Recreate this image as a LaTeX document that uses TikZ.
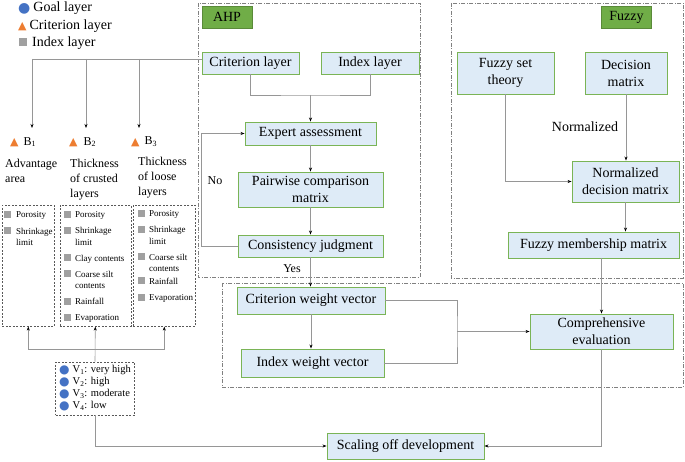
\documentclass[tikz,border=0pt]{standalone}
\usepackage{fontspec}
\setmainfont{Liberation Serif}
\newfontfamily\symfont{DejaVu Sans}
\usepackage{tikz}
\usetikzlibrary{positioning,arrows.meta,calc}

\definecolor{boxfill}{RGB}{222,235,247}
\definecolor{boxedge}{RGB}{122,180,86}
\definecolor{tagfill}{RGB}{112,173,71}
\definecolor{wiregray}{RGB}{150,150,150}
\definecolor{goalblue}{RGB}{68,114,196}
\definecolor{critorange}{RGB}{237,125,49}
\definecolor{idxgray}{RGB}{160,160,160}

\newcommand{\goaldot}[1]{\raisebox{-1pt}{\smash{\fontsize{#1}{#1}\symfont\color{goalblue}●}}}
\newcommand{\crittri}[1]{\raisebox{-0.5pt}{\smash{\fontsize{#1}{#1}\symfont\color{critorange}▲}}}
\newcommand{\idxsq}{\textcolor{idxgray}{\rule{7pt}{7pt}}}

\begin{document}
\begin{tikzpicture}[
    x=1pt, y=-1pt,
    proc/.style={rectangle, draw=boxedge, fill=boxfill, line width=0.9pt, inner sep=0pt, font=\fontsize{14}{17}\selectfont, align=center},
    tag/.style={rectangle, draw=tagfill!80!black, fill=tagfill, inner sep=0pt, minimum width=50, minimum height=22, font=\fontsize{14}{17}\selectfont},
    region/.style={draw=gray, line width=0.6pt, dash pattern=on 4pt off 1.5pt on 1pt off 1.5pt},
    ibox/.style={rectangle, draw=gray!70!black, line width=0.6pt, dash pattern=on 2pt off 1.5pt, inner sep=0pt},
    items/.style={inner sep=0pt, anchor=north west, font=\fontsize{9}{11.5}\selectfont},
    conn/.style={-{Stealth[length=4pt,width=3pt,black]}, draw=wiregray, line width=0.6pt},
    wire/.style={draw=wiregray, line width=0.6pt},
    note/.style={inner sep=0pt, align=left, font=\fontsize{12}{15}\selectfont},
    legend/.style={inner sep=0pt, anchor=west, font=\fontsize{14}{17}\selectfont}
]
\useasboundingbox (0,0) rectangle (685,462);

% Frames
\draw[region] (198,3) rectangle (420,277);
\draw[region] (451,3) rectangle (683,278);
\draw[region] (222,283) rectangle (683,387);

% Legend
\node[legend] (goal) at (18,8) {\goaldot{14}\hspace{3pt}Goal layer};
\node[legend] (critl) at (18,26) {\crittri{11}\hspace{3pt}Criterion layer};
\node[legend] (indexl) at (19,43) {\textcolor{idxgray}{\rule{8pt}{8pt}}\hspace{5pt}Index layer};

% AHP
\node[tag] (ahptag) at (227,17) {AHP};
\node[proc, minimum width=97, minimum height=22] (crit) at (250.5,63) {Criterion layer};
\node[proc, minimum width=98, minimum height=22] (index) at (370,63) {Index layer};
\node[proc, minimum width=131, minimum height=23] (expert) at (310.5,133.5) {Expert assessment};
\node[proc, minimum width=145, minimum height=35] (pairwise) at (310.5,189.5) {Pairwise comparison\\matrix};
\node[proc, minimum width=145, minimum height=22] (consist) at (310.5,246) {Consistency judgment};

% Fuzzy
\node[tag] (fuzzytag) at (626.5,17) {Fuzzy};
\node[proc, minimum width=97, minimum height=42] (fuzzyset) at (505.5,73) {Fuzzy set\\theory};
\node[proc, minimum width=82, minimum height=42] (decision) at (626,73) {Decision\\matrix};
\node[proc, minimum width=107, minimum height=41] (normdec) at (625.5,181.5) {Normalized\\decision matrix};
\node[proc, minimum width=171, minimum height=26] (member) at (593.5,245) {Fuzzy membership matrix};

% Evaluation
\node[proc, minimum width=148, minimum height=27] (critw) at (311,300.5) {Criterion weight vector};
\node[proc, minimum width=143, minimum height=28] (indexw) at (312.5,363) {Index weight vector};
\node[proc, minimum width=143, minimum height=35] (compre) at (601.5,331.5) {Comprehensive\\evaluation};
\node[proc, minimum width=157, minimum height=26] (scaling) at (405.5,446) {Scaling off development};

% Criterion layer B1--B3
\node[note, anchor=west] (b1) at (10,142) {\crittri{11}\hspace{5pt}B\textsubscript{1}};
\node[note, anchor=west] (b2) at (69,142) {\crittri{11}\hspace{6pt}B\textsubscript{2}};
\node[note, anchor=west] (b3) at (131,142) {\crittri{11}\hspace{5pt}B\textsubscript{3}};
\node[note, anchor=north west] (b1txt) at (5,159) {Advantage\\area};
\node[note, anchor=north west] (b2txt) at (70,159) {Thickness\\of crusted\\layers};
\node[note, anchor=north west] (b3txt) at (138,157) {Thickness\\of loose\\layers};

% Index layer boxes
\node[ibox, anchor=north west, minimum width=52, minimum height=121] (ind1) at (2,205) {};
\node[ibox, anchor=north west, minimum width=71, minimum height=121] (ind2) at (59.5,205) {};
\node[ibox, anchor=north west, minimum width=62, minimum height=121] (ind3) at (133,205) {};
\node[items] (ind1list) at (3.5,209.5) {\begin{tabular}{@{}l@{\hspace{5.5pt}}l@{}}
  \idxsq & Porosity\\[5pt]
  \idxsq & Shrinkage\\
         & limit
\end{tabular}};
\node[items] (ind2list) at (63.5,209.5) {\begin{tabular}{@{}l@{\hspace{4.5pt}}l@{}}
  \idxsq & Porosity\\[4.5pt]
  \idxsq & Shrinkage\\
         & limit\\[4.5pt]
  \idxsq & Clay contents\\[4.5pt]
  \idxsq & Coarse silt\\
         & contents\\[4.5pt]
  \idxsq & Rainfall\\[4.5pt]
  \idxsq & Evaporation
\end{tabular}};
\node[items] (ind3list) at (137.5,208.5) {\begin{tabular}{@{}l@{\hspace{4.5pt}}l@{}}
  \idxsq & Porosity\\[4.5pt]
  \idxsq & Shrinkage\\
         & limit\\[4.5pt]
  \idxsq & Coarse silt\\
         & contents\\[1pt]
  \idxsq & Rainfall\\[5pt]
  \idxsq & Evaporation
\end{tabular}};

% Goal layer box
\node[ibox, minimum width=79, minimum height=53, font=\fontsize{10.5}{12}\selectfont] (vbox) at (95,388.5) {\begin{tabular}{@{}l@{\hspace{3pt}}l@{}}
  \goaldot{12} & V\textsubscript{1}: very high\\
  \goaldot{12} & V\textsubscript{2}: high\\
  \goaldot{12} & V\textsubscript{3}: moderate\\
  \goaldot{12} & V\textsubscript{4}: low
\end{tabular}};

% Arrows
\coordinate (crown) at (32,59);
\coordinate (b1in) at (32,128);
\coordinate (b2in) at (86,128);
\coordinate (b3in) at (139,128);
\draw[wire] (crit.west |- crown) -- (crown);
\foreach \b in {b1in,b2in,b3in}
  \draw[conn] (\b |- crown) -- (\b);

\coordinate (merge1) at (expert.north |- 0,95);
\draw[wire] (crit.south) |- (merge1) -| (index.south);
\draw[conn] (merge1) -- (expert.north);
\draw[conn] (expert) -- (pairwise);
\draw[conn] (pairwise) -- (consist);
\draw[conn] (consist.west) -- ++(-36,0) |- (expert.west);
\draw[conn] (consist.south) -- (consist.south |- critw.north);

\draw[conn] (fuzzyset.south) |- (normdec.west);
\draw[conn] (decision.south) -- (decision.south |- normdec.north);
\draw[conn] (normdec.south) -- (normdec.south |- member.north);
\draw[conn] (compre.north |- member.south) -- (compre.north);

\coordinate (merge2) at (compre.west -| 457,0);
\draw[wire] (critw.east) -| (merge2) |- (indexw.east);
\draw[conn] (merge2) -- (compre.west);
\draw[conn] (critw.south) -- (critw.south |- indexw.north);
\draw[conn] (compre.south) |- (scaling.east);
\draw[conn] (vbox.south) |- (scaling.west);

\coordinate (vfork) at (vbox.north |- 0,349);
\draw[conn] (vbox.north) -- (ind2.south);
\draw[conn] (vfork) -| (ind1.south);
\draw[conn] (vfork) -| (ind3.south);

% Labels
\node[note] (nolbl) at (215,181) {No};
\node[note] (yeslbl) at (292,269) {Yes};
\node[note, font=\fontsize{14}{17}\selectfont] (normlbl) at (585,127) {Normalized};

\end{tikzpicture}
\end{document}
